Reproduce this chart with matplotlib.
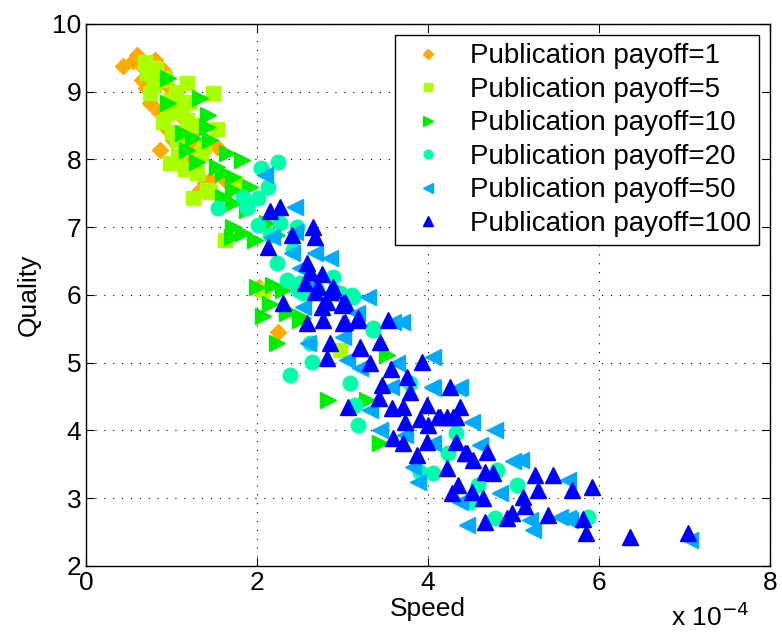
import matplotlib.pyplot as plt
import numpy as np

plt.rcParams['font.family'] = ['Liberation Sans', 'DejaVu Sans']

# speed (x 1e-4) and quality for each publication payoff
x_p1 = [0.43, 0.60, 0.81, 0.90, 0.65, 0.75, 0.92, 0.87, 1.02, 1.33, 1.45, 1.53, 1.25,
        2.24, 2.02, 1.63, 1.39, 0.55, 0.70, 1.00, 1.15, 0.85, 1.10, 1.20, 0.78,
        0.68, 0.95, 1.05, 1.28]
y_p1 = [9.37, 9.54, 9.47, 9.32, 9.17, 8.83, 8.48, 8.14, 8.29, 7.55, 7.70, 8.18, 8.18,
        5.45, 6.12, 7.70, 7.65, 9.45, 9.05, 8.95, 8.60, 8.70, 8.40, 7.95, 9.25,
        9.35, 9.10, 8.80, 8.45]

x_p5 = [0.69, 0.71, 0.77, 0.75, 1.18, 1.49, 1.10, 1.18, 1.06, 1.53, 0.98, 1.16, 1.30,
        1.25, 1.45, 0.98, 0.87, 0.95, 2.07, 1.63, 2.97, 1.42, 1.74, 0.80, 1.05, 1.35,
        0.90, 1.20, 0.82, 0.92, 1.12, 1.25, 1.38, 1.00, 1.08]
y_p5 = [9.44, 9.28, 9.29, 8.98, 9.13, 8.98, 8.78, 8.58, 8.29, 8.44, 7.95, 7.85, 7.80,
        7.43, 7.52, 8.88, 9.17, 8.69, 6.07, 6.81, 5.19, 7.55, 7.65, 9.10, 9.00, 8.10,
        8.55, 8.85, 9.35, 9.20, 8.70, 8.50, 8.20, 8.40, 8.05]

x_p10 = [0.96, 1.33, 0.96, 1.43, 1.42, 1.13, 1.25, 1.45, 1.18, 1.65, 1.82, 1.30, 1.53,
         1.60, 1.72, 1.72, 1.92, 1.72, 1.60, 1.88, 1.72, 1.84, 1.71, 1.98, 2.12, 2.23,
         2.00, 2.19, 2.07, 2.35, 2.23, 2.50, 2.30, 2.83, 2.35, 3.44, 3.52, 2.54, 3.29,
         2.15]
y_p10 = [9.20, 8.91, 8.83, 8.66, 8.48, 8.39, 8.32, 8.29, 8.14, 8.10, 7.99, 7.96, 7.89,
         7.80, 7.74, 7.55, 7.59, 7.36, 7.45, 7.25, 7.00, 6.91, 6.86, 6.81, 7.06, 6.89,
         6.12, 6.15, 5.68, 5.78, 5.29, 5.63, 6.07, 4.45, 5.73, 3.82, 5.11, 5.66, 4.45,
         5.87]

x_p20 = [2.25, 2.04, 2.13, 1.84, 2.01, 1.88, 1.54, 2.01, 2.27, 2.47, 2.15, 2.23, 2.35,
         2.50, 2.42, 2.89, 2.54, 2.70, 3.12, 2.97, 3.36, 2.62, 2.39, 2.64, 3.18, 3.15,
         3.09, 3.36, 2.48, 3.11, 4.32, 4.81, 4.58, 5.04, 4.78, 5.87, 3.91, 4.06, 4.23,
         4.49, 3.79]
y_p20 = [7.96, 7.87, 7.59, 7.45, 7.43, 7.28, 7.28, 7.03, 7.06, 7.00, 6.89, 6.47, 6.22,
         6.17, 6.66, 6.27, 6.03, 6.07, 5.97, 6.03, 5.48, 5.29, 4.82, 5.01, 4.08, 4.38,
         4.70, 5.51, 6.07, 6.00, 3.96, 3.42, 3.19, 3.19, 2.71, 2.72, 3.39, 3.37, 3.67,
         2.94, 4.70]

x_p50 = [2.09, 2.44, 2.18, 2.44, 2.41, 2.68, 2.85, 2.50, 2.62, 3.30, 2.54, 3.01, 2.60,
         3.59, 3.70, 4.06, 3.05, 3.20, 3.64, 4.05, 4.37, 4.51, 3.44, 4.06, 3.82, 2.85,
         3.17, 3.56, 3.32, 4.06, 4.35, 4.78, 5.08, 4.99, 4.61, 4.84, 4.37, 4.46, 5.23,
         5.54, 5.63, 5.66, 5.63, 3.88, 3.73, 7.06, 5.19]
y_p50 = [7.77, 7.30, 6.86, 6.93, 6.62, 6.62, 6.55, 6.40, 6.19, 5.97, 5.82, 5.38, 5.29,
         5.60, 5.60, 5.08, 5.04, 4.92, 5.00, 4.64, 4.64, 4.13, 4.01, 3.82, 3.46, 6.03,
         5.73, 4.64, 4.30, 4.63, 4.63, 4.01, 3.56, 3.54, 3.79, 3.08, 2.94, 2.60, 2.53,
         2.72, 2.71, 2.68, 3.27, 3.23, 3.93, 2.38, 2.68]

x_p100 = [2.15, 2.27, 2.65, 2.68, 2.41, 2.13, 2.58, 2.62, 2.76, 2.56, 2.68, 2.89, 2.82,
          3.01, 2.58, 2.77, 3.01, 3.18, 3.53, 2.85, 3.20, 3.44, 2.71, 2.85, 2.76, 2.99,
          3.03, 3.17, 3.20, 3.32, 2.82, 3.93, 3.56, 3.75, 3.46, 3.79, 3.42, 3.06, 3.58,
          3.71, 3.99, 3.73, 3.91, 4.14, 4.26, 4.37, 4.29, 3.59, 3.71, 3.87, 3.99, 4.32,
          4.43, 4.22, 4.00, 4.11, 4.22, 4.32, 4.46, 4.69, 4.53, 4.67, 4.76, 4.35, 4.28,
          4.51, 4.64, 5.11, 5.13, 4.98, 4.92, 4.67, 5.25, 5.46, 5.29, 5.68, 5.92, 5.40,
          5.81, 5.84, 6.36, 7.04, 2.89, 3.03, 2.30]
y_p100 = [7.23, 7.30, 7.00, 6.86, 6.89, 6.71, 6.47, 6.34, 6.30, 6.17, 6.04, 6.07, 5.90,
          5.88, 5.59, 5.63, 5.59, 5.66, 5.63, 5.29, 5.23, 5.31, 6.12, 6.04, 5.82, 5.85,
          5.60, 5.63, 5.22, 5.00, 5.07, 5.01, 4.90, 4.79, 4.67, 4.57, 4.48, 4.35, 4.33,
          4.35, 4.38, 4.13, 4.16, 4.20, 4.64, 4.35, 4.20, 3.89, 3.82, 3.64, 3.83, 3.83,
          3.67, 3.45, 4.08, 4.20, 4.20, 4.20, 3.67, 3.68, 3.56, 3.39, 3.37, 3.19, 3.08,
          3.09, 3.00, 3.02, 2.88, 2.78, 2.71, 2.65, 3.34, 3.34, 3.12, 3.12, 3.17, 2.75,
          2.69, 2.49, 2.43, 2.49, 6.12, 5.90, 5.88]

series = [
    (x_p1, y_p1, 'D', 8.5, '#FFAA00', 'Publication payoff=1'),
    (x_p5, y_p5, 's', 9.5, '#AAFF00', 'Publication payoff=5'),
    (x_p10, y_p10, '>', 11.5, '#00EE00', 'Publication payoff=10'),
    (x_p20, y_p20, 'o', 10.5, '#00FFAA', 'Publication payoff=20'),
    (x_p50, y_p50, '<', 11.5, '#00AAFF', 'Publication payoff=50'),
    (x_p100, y_p100, '^', 11.5, '#0000FF', 'Publication payoff=100'),
]

fig = plt.figure(figsize=(7.82, 6.43), dpi=100)
ax = fig.add_axes([0.110, 0.120, 0.875, 0.843])

for xs, ys, m, ms, c, lab in series:
    ax.plot(xs, ys, linestyle='none', marker=m, markersize=ms, color=c,
            markeredgecolor=c, label=lab)

ax.set_xlim(0, 8)
ax.set_ylim(2, 10)
ax.set_xticks([0, 2, 4, 6, 8])
ax.set_yticks(range(2, 11))
ax.grid(True, color='black', linestyle=(0, (1, 7)), linewidth=0.8)
ax.tick_params(direction='in', top=True, right=True, labelsize=19, length=6)
for sp in ax.spines.values():
    sp.set_linewidth(1.0)

ax.set_xlabel('Speed', fontsize=19, labelpad=2)
ax.set_ylabel('Quality', fontsize=19, labelpad=8)
fig.text(0.858, 0.018, r'x 10$^{-4}$', fontsize=19, ha='left', va='bottom')

leg = ax.legend(loc='upper right', fontsize=20, markerscale=0.6, handletextpad=0.6,
                borderpad=0.3, labelspacing=0.27, fancybox=False, framealpha=1,
                edgecolor='black', borderaxespad=0.4, handlelength=1.8)
leg.get_frame().set_linewidth(1.0)

fig.savefig('out.png', dpi=100)
